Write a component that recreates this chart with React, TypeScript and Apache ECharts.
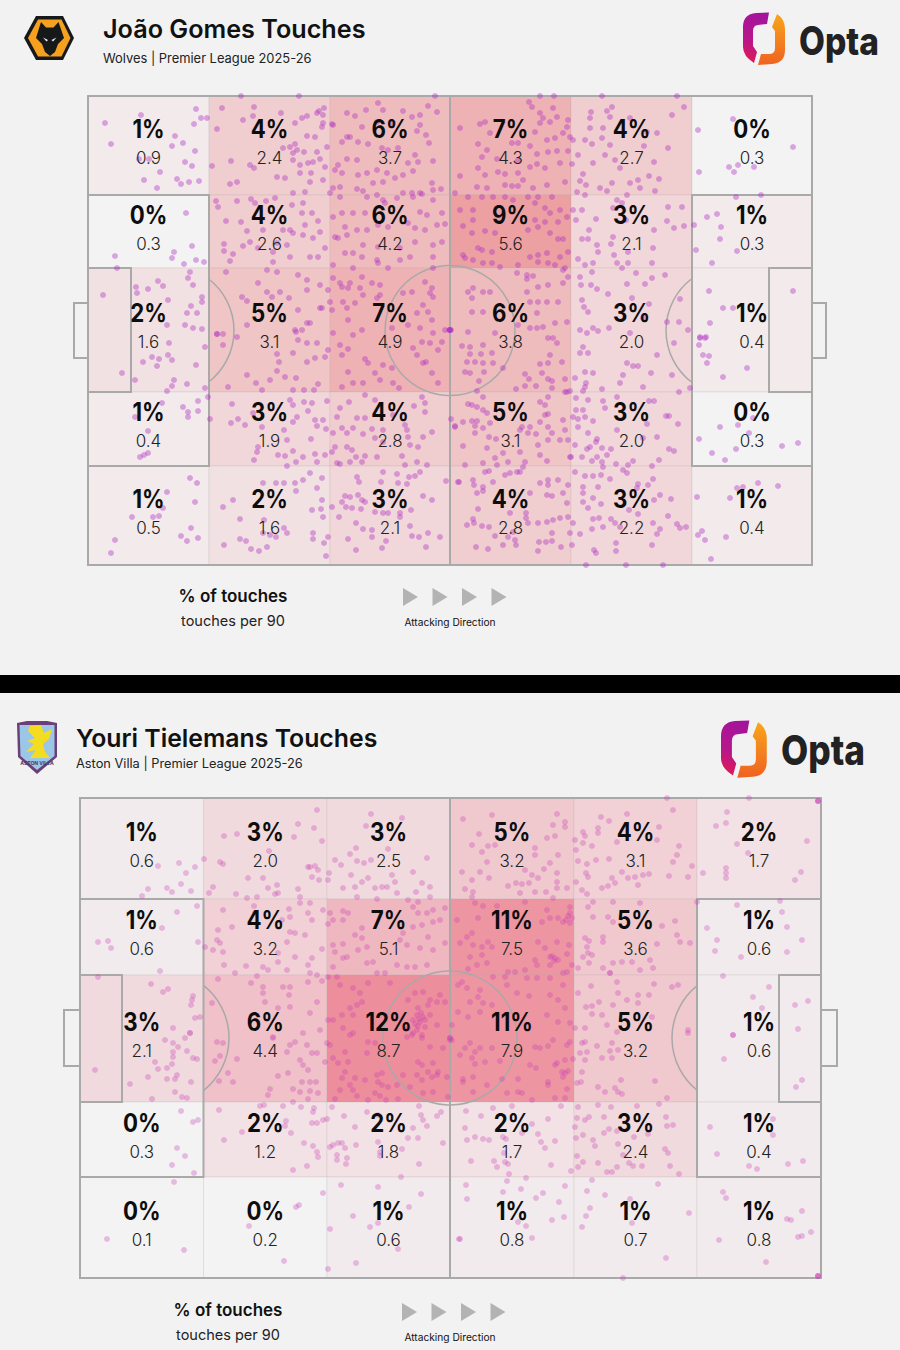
import { useEffect, useRef } from 'react';
import * as echarts from 'echarts';

type Pt = [number, number];

const FONT = 'Inter, "Noto Sans", sans-serif';
const LINE = '#a9a9a9';

// zone readings, row by row, left to right
const gomesPct = [
  [1, 4, 6, 7, 4, 0],
  [0, 4, 6, 9, 3, 1],
  [2, 5, 7, 6, 3, 1],
  [1, 3, 4, 5, 3, 0],
  [1, 2, 3, 4, 3, 1],
];
const gomesPer90 = [
  ['0.9', '2.4', '3.7', '4.3', '2.7', '0.3'],
  ['0.3', '2.6', '4.2', '5.6', '2.1', '0.3'],
  ['1.6', '3.1', '4.9', '3.8', '2.0', '0.4'],
  ['0.4', '1.9', '2.8', '3.1', '2.0', '0.3'],
  ['0.5', '1.6', '2.1', '2.8', '2.2', '0.4'],
];
const tielemansPct = [
  [1, 3, 3, 5, 4, 2],
  [1, 4, 7, 11, 5, 1],
  [3, 6, 12, 11, 5, 1],
  [0, 2, 2, 2, 3, 1],
  [0, 0, 1, 1, 1, 1],
];
const tielemansPer90 = [
  ['0.6', '2.0', '2.5', '3.2', '3.1', '1.7'],
  ['0.6', '3.2', '5.1', '7.5', '3.6', '0.6'],
  ['2.1', '4.4', '8.7', '7.9', '3.2', '0.6'],
  ['0.3', '1.2', '1.8', '1.7', '2.4', '0.4'],
  ['0.1', '0.2', '0.6', '0.8', '0.7', '0.8'],
];

// touches in pitch units, from the top left corner of each pitch
const gomesTouches: Pt[] = [
  [17,27],[23,48],[53,19],[108,13],[113,22],[119,22],[106,28],[87,40],[84,50],[95,47],[107,55],[51,63],[61,63],[97,66],[104,70],[72,76],[56,84],[89,83],[93,88],[101,86],[111,85],[69,92],
  [153,0],[211,0],[134,12],[166,11],[129,33],[155,24],[165,20],[193,17],[207,27],[214,22],[219,20],[231,15],[236,12],[235,19],[229,17],[235,27],[234,31],[244,28],[219,40],[227,41],[207,48],[202,51],[209,54],[216,56],[205,57],[195,52],[143,65],[124,70],[162,69],[166,72],[205,64],[212,69],[220,67],[232,63],[225,66],[223,77],[237,71],[142,88],[149,86],[189,81],[197,82],[222,86],[235,84],[212,77],[239,51],[229,56],
  [347,0],[290,7],[259,17],[278,14],[295,14],[315,15],[340,10],[349,16],[332,19],[324,21],[267,20],[245,29],[274,31],[289,26],[305,27],[332,29],[329,35],[259,41],[254,46],[262,41],[270,46],[280,48],[294,52],[300,54],[310,52],[338,39],[341,47],[327,59],[320,67],[330,66],[345,65],[259,63],[269,64],[250,69],[247,74],[254,77],[270,79],[279,77],[289,74],[299,77],[307,82],[315,79],[325,75],[285,87],[295,86],[344,87],[245,92],[252,91],[269,93],[275,95],[324,97],[332,97],[345,94],[353,93],
  [98,117],[27,160],[86,156],[84,162],[104,150],[108,164],[116,166],[96,168],
  [128,105],[130,111],[149,105],[163,103],[167,107],[178,105],[187,102],[205,97],[217,96],[215,107],[204,109],[138,125],[153,126],[159,135],[175,134],[195,134],[202,134],[214,117],[224,117],[230,125],[217,129],[136,148],[136,155],[145,158],[155,150],[162,146],[170,152],[189,147],[199,149],[205,137],[215,139],[225,142],[232,136],[142,165],[185,166],[202,161],[222,161],[230,161],[237,152],[185,156],
  [242,97],[252,101],[279,101],[289,99],[295,104],[297,107],[309,102],[315,97],[325,101],[334,98],[345,104],[254,117],[245,121],[265,117],[277,117],[332,116],[339,119],[354,117],[257,131],[269,134],[279,134],[290,129],[300,131],[320,127],[327,132],[337,134],[349,129],[357,128],[250,142],[247,141],[259,139],[275,149],[290,151],[312,152],[327,146],[345,149],[354,146],[257,157],[265,157],[274,161],[289,164],[312,164],[322,161],[345,161],[245,169],[265,172],[290,167],[300,172],[345,172],
  [29,172],[102,176],[100,182],[105,189],[70,185],[75,190],[48,191],[49,197],[60,193],[80,204],[114,201],[114,206],[103,210],[99,217],[109,217],[15,199],[97,229],[105,232],[114,233],[79,229],
  [138,176],[179,174],[189,176],[210,179],[219,184],[232,189],[170,187],[179,196],[192,196],[184,201],[154,201],[159,205],[201,202],[219,194],[240,194],[210,214],[232,212],[129,238],[135,238],[159,229],[207,234],[219,227],[222,227],[214,234],
  [245,182],[252,187],[262,187],[274,181],[284,187],[292,189],[260,192],[254,191],[272,192],[292,199],[275,199],[255,206],[267,207],[242,206],[234,212],[244,214],[259,212],[289,202],[260,224],[274,234],[265,239],[304,232],
  [337,186],[344,192],[342,197],[315,197],[324,196],[345,201],[335,209],[340,216],[329,217],[344,224],[320,229],[332,232],[357,234],[345,237],
  [452,0],[466,0],[441,6],[444,11],[452,17],[465,12],[480,24],[372,32],[392,28],[397,26],[402,37],[390,48],[399,54],[424,47],[430,47],[442,50],[452,27],[455,22],[462,26],[469,21],[447,36],[459,44],[467,42],[475,37],[479,31],[482,41],[394,61],[409,63],[430,64],[449,58],[460,56],[469,55],[480,55],[390,72],[372,80],[397,79],[410,76],[417,78],[430,77],[442,71],[449,68],[457,72],[472,67],[484,68],[389,91],[399,92],[417,89],[424,90],[430,90],[435,84],[459,89],[477,86],[445,92],[367,97],
  [514,0],[589,0],[596,11],[584,19],[524,11],[503,16],[519,15],[502,22],[522,21],[502,32],[515,32],[542,22],[559,36],[569,37],[485,44],[497,44],[514,42],[522,49],[504,48],[556,50],[580,52],[490,59],[517,59],[505,67],[527,64],[566,66],[532,72],[495,78],[561,80],[571,83],[492,85],[498,89],[550,84],[542,87],[524,87],[512,92],[519,95],[489,96],[552,92],[567,95],[539,99],[497,99],
  [610,34],[645,23],[705,51],[641,71],[650,69],[666,71],[646,76],[611,76],
  [372,114],[385,114],[375,130],[385,124],[380,101],[394,101],[405,101],[417,101],[425,104],[440,101],[450,101],[464,101],[447,107],[457,112],[462,117],[472,114],[479,121],[447,124],[457,126],[470,126],[397,135],[384,137],[407,137],[440,134],[450,131],[462,137],[475,143],[470,143],[390,152],[394,154],[375,159],[377,162],[404,156],[442,161],[450,159],[459,157],[472,161],[480,156],[395,167],[412,171],[430,169],[450,166],[460,167],[477,172],[467,169],[385,164],[404,167],
  [485,114],[494,114],[488,124],[508,123],[529,104],[534,107],[525,112],[538,124],[580,111],[594,111],[579,125],[566,134],[586,132],[596,130],[606,129],[501,134],[494,143],[500,143],[509,149],[525,141],[523,148],[565,152],[540,156],[526,159],[510,156],[490,163],[505,167],[497,169],[529,167],[540,167],[564,167],[534,172],
  [648,101],[673,99],[619,121],[629,118],[633,131],[632,143],[608,154],[649,155],[624,167],
  [385,192],[380,196],[395,196],[402,196],[384,202],[384,216],[395,216],[362,234],[362,234],[362,234],[363,234],[361,234],[439,179],[445,180],[439,183],[460,189],[450,191],[439,196],[450,206],[459,206],[470,206],[442,206],[429,177],[475,174],[480,181],[475,187],[449,217],[449,232],[467,227],[479,226],[442,232],[455,231],[380,236],[407,237],[430,229],
  [492,181],[493,189],[503,189],[504,176],[539,188],[548,177],[557,188],[564,182],[577,179],[509,193],[520,198],[494,204],[496,211],[500,216],[544,202],[561,208],[592,203],[555,222],[579,226],[591,226],[492,234],[499,237],[505,232],[510,235],[521,232],[542,237],[600,234],
  [621,195],[635,212],[645,212],[622,227],[705,195],[612,242],[617,242],
  [81,247],[55,266],[64,261],[71,263],[69,270],[80,259],[84,264],[108,269],[117,251],[34,277],[47,284],[86,284],[84,290],[79,295],[99,288],[117,292],
  [129,238],[135,249],[149,241],[189,258],[191,266],[205,257],[210,244],[219,247],[229,247],[219,266],[227,262],[237,261],[159,279],[168,287],[182,284],[189,275],[197,281],[208,282],[140,291],[174,294],[205,294],[216,294],[226,294],[230,288],[240,254],[208,236],[245,237],
  [252,249],[260,253],[254,259],[260,276],[280,267],[287,277],[292,284],[304,272],[295,269],[277,263],[265,287],[275,287],[254,291],[305,287],[311,292],[334,246],[342,247],[325,252],[329,259],[338,266],[344,277],[350,287],[350,254],[335,267],[354,246],
  [47,321],[74,307],[95,311],[100,316],[100,321],[110,305],[110,315],[60,335],[60,357],[52,361],[56,359],[120,301],
  [144,308],[122,323],[143,327],[150,323],[157,329],[165,317],[174,331],[196,334],[199,344],[216,306],[224,307],[239,305],[205,309],[202,304],[220,315],[209,321],[205,326],[227,324],[235,324],[229,330],[223,343],[238,333],[170,351],[169,356],[166,364],[190,359],[197,360],[205,355],[215,361],[208,366],[229,366],[227,358],[237,359],[199,370],
  [252,312],[261,306],[277,299],[287,304],[269,322],[277,322],[249,321],[265,332],[245,337],[254,332],[259,337],[275,338],[284,333],[295,334],[287,342],[295,346],[305,319],[317,329],[319,334],[320,341],[322,349],[334,301],[337,307],[326,310],[337,316],[344,336],[335,341],[247,351],[259,351],[264,354],[244,356],[277,360],[268,361],[289,361],[314,360],[329,366],[330,351],[249,367],[252,368],[262,366],[274,366],[317,369],[339,369],
  [102,382],[109,387],[79,396],[107,406],[75,412],[44,421],[65,421],[71,420],[103,432],[93,440],[99,445],[110,442],[27,444],[23,457],
  [135,411],[145,404],[175,387],[188,387],[196,387],[207,387],[208,395],[215,384],[229,392],[222,377],[234,382],[234,404],[224,414],[233,413],[244,411],[235,421],[152,423],[176,424],[175,437],[182,439],[188,441],[196,432],[199,437],[136,449],[152,443],[158,445],[179,451],[163,453],[171,455],[225,437],[225,443],[240,441],[236,447],[238,460],
  [257,400],[262,401],[270,399],[274,404],[277,406],[254,406],[258,411],[264,412],[273,413],[251,421],[268,427],[275,433],[284,434],[287,416],[295,417],[300,417],[312,417],[312,421],[322,430],[323,414],[335,400],[344,404],[284,441],[298,445],[324,440],[331,441],[340,437],[352,441],[338,451],[260,443],[268,454],[294,452],[295,376],[309,378],[321,381],[327,380],[332,376],[269,381],[271,386],[293,386],[310,387],[319,388],[358,385],[363,323],[367,330],[370,386],
  [374,250],[382,251],[395,249],[382,258],[393,258],[404,257],[379,266],[387,266],[395,267],[405,267],[377,276],[382,277],[396,276],[391,285],[415,272],[462,259],[452,268],[460,267],[474,266],[437,278],[441,283],[454,277],[460,283],[464,285],[477,283],[437,290],[448,290],[428,293],[464,292],[477,296],[482,295],[389,295],[465,242],[469,247],[460,242],
  [492,257],[500,257],[495,251],[569,259],[539,267],[545,270],[550,270],[497,276],[505,277],[563,277],[535,279],[584,279],[487,282],[498,287],[532,287],[497,291],[555,291],[514,293],[495,295],[591,296],[586,247],
  [612,241],[618,241],[611,249],[615,259],[621,260],[619,267],[635,281],[659,272],[602,292],
  [384,309],[389,311],[395,301],[380,308],[399,317],[395,314],[402,327],[367,331],[375,326],[384,325],[389,325],[387,330],[395,332],[387,337],[401,341],[408,343],[375,350],[399,352],[415,357],[407,362],[377,369],[395,367],[409,369],[420,366],[437,366],[435,371],[429,376],[432,334],[440,337],[448,338],[434,331],[442,331],[452,306],[460,301],[457,309],[457,319],[460,318],[452,326],[460,331],[464,337],[460,344],[475,324],[477,334],[450,349],[432,356],[452,359],[459,365],[472,344],[480,344],[482,361],[479,296],
  [488,302],[488,314],[495,314],[500,304],[485,321],[490,323],[497,321],[490,331],[505,325],[515,305],[517,312],[529,301],[561,305],[566,305],[578,320],[581,320],[590,328],[559,328],[529,334],[500,337],[509,343],[508,346],[487,349],[502,351],[499,353],[514,352],[523,353],[569,341],[555,342],[581,353],[586,355],[509,361],[494,361],[483,361],[504,365],[514,366],[519,359],[515,371],[545,365],[540,369],[528,368],[571,364],[564,370],
  [632,331],[611,343],[624,357],[648,353],[637,364],[650,329],[661,337],[665,322],[694,350],[710,347],
  [371,386],[385,384],[386,389],[395,391],[389,397],[395,395],[405,386],[397,376],[401,375],[417,379],[422,377],[432,376],[442,397],[452,387],[460,384],[460,389],[459,399],[464,400],[470,384],[475,397],[480,389],[479,407],[390,413],[422,417],[438,417],[438,422],[379,429],[385,423],[386,427],[394,430],[401,431],[425,436],[440,427],[450,427],[459,426],[465,424],[472,422],[480,421],[485,427],[464,437],[407,440],[420,441],[427,444],[464,445],[451,446],[458,446],[388,451],[400,453],[415,449],[428,449],[473,451],[450,455],
  [487,376],[497,380],[505,380],[513,379],[522,383],[535,374],[539,377],[565,383],[495,391],[510,391],[495,397],[495,406],[505,402],[513,408],[550,388],[549,392],[560,389],[572,399],[566,404],[583,403],[500,412],[541,414],[550,418],[580,420],[505,423],[511,422],[523,423],[527,427],[482,437],[492,438],[504,433],[515,431],[532,431],[565,427],[572,433],[569,438],[589,428],[598,431],[592,432],[528,447],[564,449],[484,449],[506,454],[508,457],[528,455],[498,469],[538,469],[575,469],
  [609,401],[642,402],[649,392],[655,391],[670,387],[690,390],[614,435],[610,439],[617,444],[638,441],[623,463],
];

const tielemansTouches: Pt[] = [
  [78,68],[99,65],[115,69],[124,61],[106,75],[68,91],[87,90],[92,94],[101,86],[111,93],[62,98],
  [237,12],[218,26],[234,30],[214,39],[242,43],[144,38],[157,36],[189,53],[140,64],[143,66],[230,69],[235,68],[238,72],[168,80],[183,80],[197,87],[188,90],[232,79],[239,82],[133,89],[129,95],[156,96],[167,100],[177,99],[195,96],[198,95],[218,91],[220,99],[228,69],
  [291,16],[322,20],[286,28],[276,50],[270,56],[308,51],[347,60],[255,62],[261,67],[277,63],[284,65],[291,62],[249,75],[271,77],[288,80],[282,84],[248,82],[263,90],[275,89],[295,90],[302,89],[307,89],[312,77],[315,84],[317,95],[333,74],[342,85],[350,89],[336,94],[277,99],[297,101],[350,99],
  [97,114],[117,108],[82,130],[18,144],[28,143],[31,150],[118,144],[80,173],
  [143,112],[174,108],[175,115],[209,111],[210,119],[220,105],[230,105],[228,115],[243,112],[202,122],[152,129],[138,132],[232,122],[210,134],[215,135],[225,137],[137,142],[140,145],[125,149],[133,152],[143,154],[207,144],[198,155],[215,159],[242,151],[198,164],[232,160],[228,167],[144,167],[166,168],[183,169],[188,172],[207,172],[155,175],[177,178],[230,175],[237,177],[242,183],
  [248,126],[250,115],[263,113],[268,115],[253,122],[263,122],[253,147],[263,146],[255,154],[282,130],[275,137],[282,140],[287,149],[278,152],[323,135],[333,129],[342,127],[353,124],[360,122],[328,102],[338,104],[333,109],[347,115],[353,112],[365,110],[338,115],[348,139],[320,142],[327,147],[340,150],[353,152],[365,145],[263,160],[267,159],[287,165],[293,164],[317,167],[327,169],[335,169],[347,167],[253,169],[305,175],[297,175],
  [18,179],[71,186],[83,194],[88,191],[113,198],[111,207],[112,202],[120,219],[115,220],[110,235],[93,230],
  [138,181],[171,185],[183,189],[203,189],[210,189],[228,184],[183,195],[185,204],[198,210],[209,197],[210,209],[132,205],[230,215],[193,239],[223,235],[237,204],[240,232],
  [248,179],[257,179],[260,187],[273,190],[280,195],[288,185],[310,185],[277,207],[270,210],[262,217],[273,217],[248,222],[253,222],[263,230],[270,237],[282,204],
  [335,195],[343,194],[360,197],[350,202],[328,202],[338,210],[348,207],[357,204],[365,204],[337,217],[343,219],[333,222],[340,224],[350,217],[328,230],[337,232],[345,229],[332,237],[342,237],[357,227],[339,221],[341,215],[335,226],[345,222],[338,228],
  [383,21],[412,17],[477,16],[485,24],[485,29],[473,27],[399,36],[467,40],[475,38],[392,47],[402,54],[408,48],[415,47],[455,50],[455,57],[478,57],[407,64],[470,65],[382,74],[400,74],[392,82],[409,80],[464,71],[477,75],[477,84],[445,72],[452,77],[458,80],[428,88],[436,85],[442,86],[449,85],[487,90],[477,90],[385,91],[393,94],[392,99],[440,95],[455,94],[466,94],[473,100],
  [587,0],[593,12],[547,16],[521,19],[529,23],[518,30],[518,35],[503,34],[505,38],[579,29],[577,42],[495,42],[503,45],[512,48],[537,44],[599,48],[496,52],[597,57],[498,63],[507,66],[516,62],[529,61],[593,64],[612,68],[542,74],[506,75],[508,79],[548,80],[555,79],[563,77],[569,76],[589,78],[608,79],[496,84],[532,80],[535,85],[522,90],[528,88],[558,87],[502,92],[507,96],[623,75],
  [669,0],[738,3],[738,3],[738,3],[647,14],[646,25],[636,28],[727,43],[657,46],[668,55],[646,70],[646,75],[646,80],[721,74],[715,82],[700,103],
  [377,122],[398,120],[395,105],[403,108],[417,108],[445,104],[467,112],[490,109],[490,115],[490,125],[462,124],[470,120],[478,120],[483,124],[392,135],[387,139],[380,145],[393,147],[402,149],[408,144],[412,149],[458,144],[465,150],[477,144],[489,147],[390,159],[402,157],[455,162],[470,159],[475,160],[478,162],[487,156],[397,167],[407,165],[388,171],[428,174],[435,174],[445,172],[457,167],[470,167],[483,175],[492,167],[487,174],[488,118],[486,122],[492,120],[472,158],[474,163],
  [513,104],[508,109],[533,104],[560,105],[513,119],[528,119],[533,124],[582,128],[595,123],[505,140],[509,143],[523,139],[523,144],[597,137],[600,144],[610,145],[577,146],[507,149],[503,159],[508,155],[512,157],[533,165],[542,164],[552,164],[570,162],[498,170],[509,165],[523,170],[560,172],[573,170],[530,175],[617,104],
  [657,107],[702,114],[627,130],[707,129],[637,142],[722,142],[635,153],[707,154],[661,159],[643,178],
  [382,184],[387,190],[378,187],[400,192],[398,199],[403,205],[412,207],[400,214],[378,214],[427,187],[437,195],[449,198],[470,197],[478,202],[485,210],[467,217],[478,224],[490,225],[413,179],[425,179],[447,180],[457,180],[470,180],[483,187],[390,204],[388,219],[372,227],[370,240],[370,240],
  [511,188],[537,184],[530,175],[574,186],[592,189],[598,187],[498,195],[538,195],[506,209],[512,208],[519,204],[533,207],[547,202],[558,197],[558,205],[569,197],[572,219],[512,216],[522,217],[495,230],[505,230],[527,227],[537,234],[608,235],[608,232],
  [689,189],[673,199],[682,210],[715,207],[728,203],[718,231],[653,237],
  [85,242],[93,245],[98,249],[105,240],[110,235],[93,254],[93,259],[107,253],[113,260],[117,261],[75,264],[78,271],[87,270],[92,266],[68,279],[87,281],[95,281],[97,277],[111,284],[50,286],[15,272],[95,294],[102,299],[107,300],[72,301],
  [137,244],[143,245],[140,258],[135,263],[157,261],[148,275],[139,283],[153,284],[210,247],[207,254],[215,244],[227,247],[232,255],[237,255],[220,262],[223,267],[228,272],[208,275],[198,278],[222,284],[230,284],[236,284],[213,291],[220,294],[230,293],[238,295],[190,291],[188,297],[213,304],[228,301],[193,240],
  [247,245],[250,247],[245,264],[253,260],[258,265],[265,254],[268,264],[265,274],[262,280],[275,280],[270,287],[260,292],[273,292],[285,282],[297,277],[302,275],[298,284],[302,287],[308,289],[295,295],[300,298],[255,301],[277,298],[288,302],[306,302],[318,301],[287,255],[295,245],[288,244],[273,235],
  [333,235],[327,239],[342,240],[350,249],[363,250],[370,242],[338,264],[342,267],[353,265],[358,274],[348,274],[352,279],[337,277],[342,282],[357,277],[367,279],[330,289],[343,295],[353,294],[368,299],[323,277],[317,287],
  [101,313],[113,324],[118,322],[97,350],[105,358],[92,367],[114,375],
  [139,312],[180,308],[184,307],[203,308],[221,309],[234,310],[233,314],[206,323],[205,328],[232,325],[237,325],[162,334],[211,335],[144,342],[224,345],[233,348],[237,354],[238,359],[227,368],[213,372],
  [252,309],[243,322],[247,321],[264,318],[287,314],[275,329],[298,317],[258,345],[253,347],[250,349],[262,345],[265,350],[276,347],[298,344],[300,354],[322,351],[300,358],[257,357],[257,362],[267,360],[266,366],[339,366],[339,308],[341,317],[343,322],[347,328],[357,318],[361,314],[333,330],[328,340],[338,340],[363,345],
  [94,384],[27,441],[104,452],[216,409],[219,407],[169,428],[204,463],[243,395],[261,387],[298,389],[321,379],[341,396],[329,409],[273,418],[298,425],[290,429],[250,431],[318,451],[276,465],[248,471],[379,441],
  [372,242],[390,245],[385,250],[380,257],[395,254],[400,250],[392,260],[395,266],[405,264],[412,250],[420,263],[383,281],[393,279],[383,284],[407,287],[393,294],[422,281],[438,281],[450,267],[456,270],[427,295],[438,294],[442,295],[452,302],[468,284],[468,287],[475,267],[475,300],[485,300],[487,291],[482,274],[485,275],[488,273],[483,279],[485,262],[477,265],[455,249],[460,250],[468,248],[473,242],[487,247],[490,244],
  [502,245],[505,244],[500,255],[507,254],[517,248],[530,253],[532,245],[505,262],[522,260],[532,260],[538,252],[502,274],[493,261],[497,285],[501,284],[541,282],[575,283],[518,289],[525,294],[535,290],[538,294],[542,296],[587,300],
  [653,237],[644,261],[722,282],[716,289],
  [386,313],[413,310],[432,308],[481,308],[401,318],[385,330],[452,326],[468,321],[442,335],[458,336],[387,342],[395,339],[403,341],[409,342],[423,339],[426,341],[461,344],[475,343],[465,350],[424,355],[391,363],[414,363],[425,364],[428,366],[417,369],[471,367],[491,373],
  [498,309],[497,320],[505,322],[509,319],[524,319],[518,307],[531,309],[557,308],[579,306],[586,319],[593,327],[587,328],[495,329],[529,331],[524,335],[537,333],[496,340],[503,337],[513,342],[515,348],[554,339],[568,336],[538,346],[585,351],[588,355],[543,357],[497,358],[503,364],[498,369],[518,365],[537,369],[549,365],[553,368],[562,368],[590,368],[527,374],[532,374],[599,376],
  [630,329],[693,321],[693,337],[637,356],[708,366],[723,363],[669,368],[677,371],
  [386,387],[387,401],[380,441],[427,383],[429,376],[423,394],[446,380],[441,391],[456,400],[463,395],[479,404],[485,388],[438,424],[446,428],[472,422],[484,419],[452,440],
  [512,382],[507,393],[525,397],[578,386],[550,401],[510,410],[506,418],[502,429],[552,425],[609,415],[586,460],[543,480],
  [643,394],[646,400],[707,421],[711,422],[722,413],[731,434],[722,438],[718,439],[639,442],[686,464],[738,478],[738,478],[738,478],
];

const OPTA_LEFT = 'M769 12.5 L767 24 L758 25 Q753 25.5 753 31 L753 46 L757 52 L754 63 Q743 56 743 47 L743 27 Q743 14 756 13 Z';
const OPTA_RIGHT = 'M777 14 Q785 19 785 29 L785 50 Q785 63 772 64 L758 65 L761 54 L769 54 Q775 54 775 48 L775 31 L772 27 Z';
echarts.graphic.registerShape('optaLeft', echarts.graphic.extendPath(OPTA_LEFT, {}));
echarts.graphic.registerShape('optaRight', echarts.graphic.extendPath(OPTA_RIGHT, {}));

const polygon = (points: number[][], fill: string, z = 10) => ({
  type: 'polygon', z, silent: true, shape: { points }, style: { fill },
});
const label = (text: string, x: number, y: number, size: number, weight: number, fill = '#111', align = 'left') => ({
  type: 'text', z: 10, silent: true, x, y,
  style: { text, fill, font: `${weight} ${size}px ${FONT}`, textAlign: align, textVerticalAlign: 'middle' },
});

const optaLogo = (dx: number, dy: number, s: number) => {
  const place = { x: 743 * (1 - s) + dx, y: 12 * (1 - s) + dy, scaleX: s, scaleY: s, z: 10 };
  return [
    {
      type: 'optaLeft', ...place,
      style: {
        fill: new echarts.graphic.LinearGradient(0.6, 0, 0.4, 1, [
          { offset: 0, color: '#a3149c' }, { offset: 0.6, color: '#b8168a' }, { offset: 1, color: '#dd1a55' },
        ]),
      },
    },
    {
      type: 'optaRight', ...place,
      style: {
        fill: new echarts.graphic.LinearGradient(0.5, 0, 0.5, 1, [
          { offset: 0, color: '#f8a51c' }, { offset: 1, color: '#ef6221' },
        ]),
      },
    },
  ];
};

const arrows = (x0: number, cy: number) => [0, 29.5, 59, 88.5].map((dx) =>
  polygon([[x0 + dx, cy - 9], [x0 + dx + 15, cy], [x0 + dx, cy + 9]], '#b3b3b3'));

const wolvesBadge = [
  polygon([[24, 38], [36, 16], [63, 16], [74, 38], [63, 60], [36, 60]], '#16181a'),
  polygon([[28, 38], [38, 19.5], [61.5, 19.5], [70.5, 38], [61.5, 56.5], [38, 56.5]], '#f5a11f'),
  polygon([[41, 22], [46, 27.5], [53.5, 27.5], [58.5, 22], [64, 38], [58, 44], [55, 52], [50, 56], [45, 52], [42, 44], [36, 38]], '#16181a'),
  polygon([[43, 37.5], [48, 40], [46.5, 41.5]], '#f2f2f2'),
  polygon([[56.5, 37.5], [51.5, 40], [53, 41.5]], '#f2f2f2'),
];

const villaBadge = [
  polygon([[17, 723], [27, 721], [47, 721], [57, 723], [57, 757], [37, 774], [18, 757]], '#6b3f78'),
  polygon([[19.5, 725], [54.5, 725], [54.5, 756], [37, 770], [20.5, 756]], '#9cc6e6'),
  polygon([[30, 726], [41, 725], [44, 733], [52, 729], [49, 739], [43, 744], [45, 752], [50, 758], [30, 758], [36, 750], [26, 752], [34, 744], [27, 741], [35, 738], [28, 731]], '#f4dc20'),
  { type: 'text', z: 11, silent: true, x: 37, y: 763, style: { text: 'ASTON VILLA', fill: '#3b3a78', font: `700 5px ${FONT}`, textAlign: 'center', textVerticalAlign: 'middle' } },
];

interface PanelConfig {
  grid: number;
  width: number;
  height: number;
  xEdges: number[];
  yEdges: number[];
  pct: number[][];
  per90: string[][];
  touches: Pt[];
  topColor: string;
  maxPct: number;
  dot: string;
  sixDepth: number;
  goalDepth: number;
  goalY: number[];
  spotX: number;
  radius: number;
}

const panels: PanelConfig[] = [
  {
    grid: 0, width: 724, height: 469,
    xEdges: [0, 121, 242, 362, 483, 604, 724], yEdges: [0, 99, 172, 296, 370, 469],
    pct: gomesPct, per90: gomesPer90, touches: gomesTouches,
    topColor: '#eca0a2', maxPct: 9, dot: 'rgba(176,48,196,0.5)',
    sixDepth: 43, goalDepth: 14, goalY: [207, 262], spotX: 81, radius: 65,
  },
  {
    grid: 1, width: 741, height: 480,
    xEdges: [0, 123.5, 247, 370, 494, 617, 741], yEdges: [0, 101, 177, 304, 379, 480],
    pct: tielemansPct, per90: tielemansPer90, touches: tielemansTouches,
    topColor: '#ec8e9b', maxPct: 12, dot: 'rgba(200,60,180,0.38)',
    sixDepth: 42, goalDepth: 16, goalY: [212, 268], spotX: 82, radius: 67,
  },
];

const panelSeries = (p: PanelConfig) => {
  const axes = { xAxisIndex: p.grid, yAxisIndex: p.grid };
  const cells: any[] = [];
  p.pct.forEach((row, r) => row.forEach((v, c) => {
    cells.push([p.xEdges[c], p.xEdges[c + 1], p.yEdges[r], p.yEdges[r + 1], v, p.per90[r][c]]);
  }));

  const line = (a: Pt, b: Pt, api: any, width = 2) => {
    const s = api.coord(a);
    const e = api.coord(b);
    return { type: 'line', shape: { x1: s[0], y1: s[1], x2: e[0], y2: e[1] }, style: { stroke: LINE, lineWidth: width, fill: 'none' } };
  };
  const box = (x0: number, x1: number, y0: number, y1: number, api: any, width = 2) => {
    const s = api.coord([x0, y0]);
    const e = api.coord([x1, y1]);
    return { type: 'rect', shape: { x: s[0], y: s[1], width: e[0] - s[0], height: e[1] - s[1] }, style: { stroke: LINE, lineWidth: width, fill: 'none' } };
  };

  return [
    {
      type: 'custom', ...axes, z: 1, silent: true, data: cells, clip: false,
      dimensions: ['x0', 'x1', 'y0', 'y1', 'pct', { name: 'per90', type: 'ordinal' }],
      renderItem: (_: any, api: any) => {
        const s = api.coord([api.value(0), api.value(2)]);
        const e = api.coord([api.value(1), api.value(3)]);
        const fill = echarts.color.lerp(Number(api.value(4)) / p.maxPct, ['#f3f3f4', p.topColor]);
        return {
          type: 'rect',
          shape: { x: s[0], y: s[1], width: e[0] - s[0], height: e[1] - s[1] },
          style: { fill, stroke: 'rgba(170,160,160,0.2)', lineWidth: 1 },
        };
      },
    },
    {
      type: 'custom', ...axes, z: 2, silent: true, data: [[0, 0]], clip: false,
      renderItem: (_: any, api: any) => {
        const { width: w, height: h, xEdges: xs, yEdges: ys, sixDepth: six, goalDepth: gd, goalY: gy, spotX, radius } = p;
        const mid = h / 2;
        const c = api.coord([xs[3], mid]);
        const sweep = Math.acos((xs[1] - spotX) / radius);
        const left = api.coord([spotX, mid]);
        const right = api.coord([w - spotX, mid]);
        const arc = (cx: number, cy: number, a0: number, a1: number) => ({
          type: 'arc',
          shape: { cx, cy, r: radius, startAngle: a0, endAngle: a1, clockwise: true },
          style: { stroke: LINE, lineWidth: 1.5, fill: 'none' },
        });
        return {
          type: 'group',
          children: [
            box(xs[0], xs[1], ys[1], ys[4], api),
            box(xs[5], xs[6], ys[1], ys[4], api),
            box(xs[0], six, ys[2], ys[3], api),
            box(w - six, w, ys[2], ys[3], api),
            box(-gd, 0, gy[0], gy[1], api),
            box(w, w + gd, gy[0], gy[1], api),
            line([xs[3], 0], [xs[3], h], api),
            {
              type: 'circle', shape: { cx: c[0], cy: c[1], r: radius },
              style: { stroke: LINE, lineWidth: 1.5, fill: 'none' },
            },
            arc(left[0], left[1], -sweep, sweep),
            arc(right[0], right[1], Math.PI - sweep, Math.PI + sweep),
            box(0, w, 0, h, api),
          ],
        };
      },
    },
    {
      type: 'scatter', ...axes, z: 3, silent: true, clip: false,
      symbol: 'circle', symbolSize: 6, data: p.touches,
      itemStyle: { color: p.dot, borderWidth: 0 },
    },
    {
      type: 'custom', ...axes, z: 4, silent: true, data: cells, clip: false,
      dimensions: ['x0', 'x1', 'y0', 'y1', 'pct', { name: 'per90', type: 'ordinal' }],
      renderItem: (params: any, api: any) => {
        const cx = (Number(api.value(0)) + Number(api.value(1))) / 2;
        const cy = (Number(api.value(2)) + Number(api.value(3))) / 2;
        const at = api.coord([cx, cy]);
        return {
          type: 'group',
          children: [
            {
              type: 'text', x: at[0], y: at[1] - 16.5, scaleX: 0.89,
              style: { text: `${api.value(4)}%`, fill: '#0d0d0d', font: `700 25px ${FONT}`, textAlign: 'center', textVerticalAlign: 'middle' },
            },
            {
              type: 'text', x: at[0], y: at[1] + 12,
              style: { text: cells[params.dataIndex][5], fill: '#222', font: `300 17px ${FONT}`, textAlign: 'center', textVerticalAlign: 'middle' },
            },
          ],
        };
      },
    },
  ];
};

export default function App() {
  const chartRef = useRef<HTMLDivElement>(null);

  useEffect(() => {
    if (!chartRef.current) return;
    document.body.style.margin = '0';
    const chart = echarts.init(chartRef.current, undefined, { renderer: 'svg' });

    chart.setOption({
      animation: false,
      backgroundColor: '#f2f2f2',
      grid: [
        { left: 88, top: 96, width: 724, height: 469 },
        { left: 80, top: 798, width: 741, height: 480 },
      ],
      xAxis: panels.map((p) => ({ type: 'value', gridIndex: p.grid, min: 0, max: p.width, show: false })),
      yAxis: panels.map((p) => ({ type: 'value', gridIndex: p.grid, min: 0, max: p.height, inverse: true, show: false })),
      series: panels.flatMap(panelSeries),
      graphic: [
        { type: 'rect', z: 10, silent: true, shape: { x: 0, y: 675, width: 900, height: 18 }, style: { fill: '#000' } },
        ...wolvesBadge,
        label('João Gomes Touches', 103, 29, 25.2, 600),
        label('Wolves | Premier League 2025-26', 103, 58, 12.9, 400, '#222'),
        ...optaLogo(0, 0, 1),
        { ...label('Opta', 799, 41, 39, 800, '#222'), scaleX: 0.86 },
        label('% of touches', 233, 596, 17, 600, '#111', 'center'),
        label('touches per 90', 233, 620, 14.5, 400, '#222', 'center'),
        ...arrows(403, 597),
        label('Attacking Direction', 450, 622, 10.2, 400, '#111', 'center'),
        ...villaBadge,
        label('Youri Tielemans Touches', 76, 738, 24.8, 600),
        label('Aston Villa | Premier League 2025-26', 76, 763, 12.8, 400, '#222'),
        ...optaLogo(-22, 708, 1.09),
        { ...label('Opta', 781, 750, 41, 800, '#222'), scaleX: 0.86 },
        label('% of touches', 228, 1310, 17, 600, '#111', 'center'),
        label('touches per 90', 228, 1334, 14.5, 400, '#222', 'center'),
        ...arrows(402, 1312),
        label('Attacking Direction', 450, 1337, 10.2, 400, '#111', 'center'),
      ],
    });

    return () => chart.dispose();
  }, []);

  return <div ref={chartRef} style={{ width: 900, height: 1350 }} />;
}
